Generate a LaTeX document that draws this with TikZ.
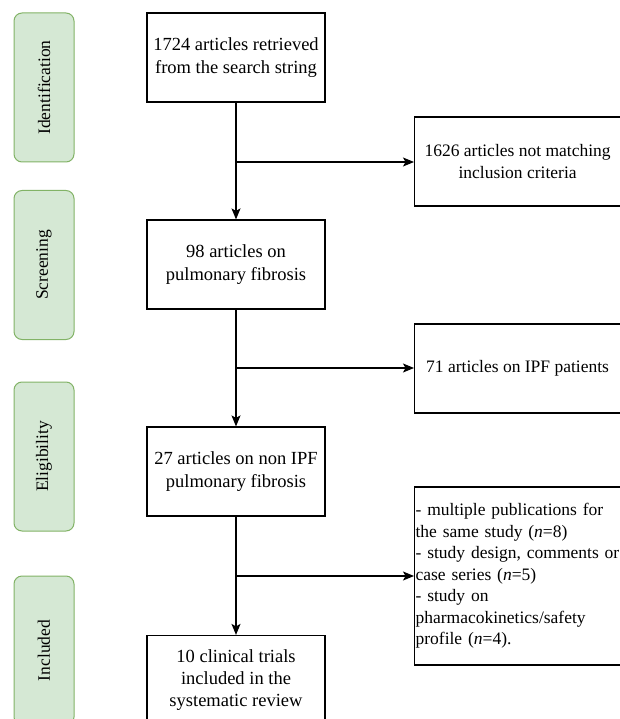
\documentclass[tikz,border=0pt]{standalone}
\usepackage{fontspec}
\setmainfont{Liberation Serif}
\usepackage{xcolor}
\usetikzlibrary{arrows.meta}
\definecolor{stagefill}{HTML}{D5E8D4}
\definecolor{stageline}{HTML}{82B366}

\begin{document}
\begin{tikzpicture}[x=1pt,y=-1pt,
    box/.style={draw, line width=1.2pt, minimum width=178pt, minimum height=89pt,
      inner sep=1pt, align=center, font=\fontsize{18.5}{23.5}\selectfont},
    sidebox/.style={box, minimum width=206pt, anchor=west,
      font=\fontsize{17.5}{21.5}\selectfont},
    stage/.style={draw=stageline, fill=stagefill, line width=1pt, rounded corners=8pt,
      minimum width=149pt, minimum height=60pt, rotate=90,
      font=\fontsize{17.5}{20}\selectfont},
    flow/.style={line width=1.2pt, -{Stealth[length=11pt,width=9pt,inset=2.5pt]}}]
    \useasboundingbox (0,0) rectangle (619,719);

    %stages
    \node[stage] (ident) at (44,87.5) {Identification};
    \node[stage] (scr) at (44,265) {Screening};
    \node[stage] (elig) at (44,456.5) {Eligibility};
    \node[stage] (incl) at (44,650.5) {Included};

    %main flow
    \node[box] (found) at (236,57.5) {1724 articles retrieved\\from the search string};
    \node[box] (fibro) at (236,264.5) {98 articles on\\pulmonary fibrosis};
    \node[box] (nonipf) at (236,471.5) {27 articles on non IPF\\pulmonary fibrosis};
    \node[box, font=\fontsize{18.5}{22}\selectfont] (trials) at (236,680) {10 clinical trials\\included in the\\systematic review};

    %excluded
    \node[sidebox] (excl1) at (414,161.5) {1626 articles not matching\\inclusion criteria};
    \node[sidebox] (excl2) at (414,368.5) {71 articles on IPF patients};
    \node[sidebox, text width=204pt, align=left, minimum height=178pt] (excl3) at (414,576)
      {- multiple publications for\\the same study (\textit{n}=8)\\- study design, comments or\\case series (\textit{n}=5)\\- study on\\pharmacokinetics/safety\\profile (\textit{n}=4).};

    \path[draw, flow] (found)--(fibro);
    \path[draw, flow] (fibro)--(nonipf);
    \path[draw, flow] (nonipf)--(trials);

    \coordinate (split1) at (236,162);
    \coordinate (split2) at (236,368);
    \coordinate (split3) at (236,576);
    \path[draw, flow] (split1)--(split1 -| excl1.west);
    \path[draw, flow] (split2)--(split2 -| excl2.west);
    \path[draw, flow] (split3)--(split3 -| excl3.west);
\end{tikzpicture}
\end{document}
